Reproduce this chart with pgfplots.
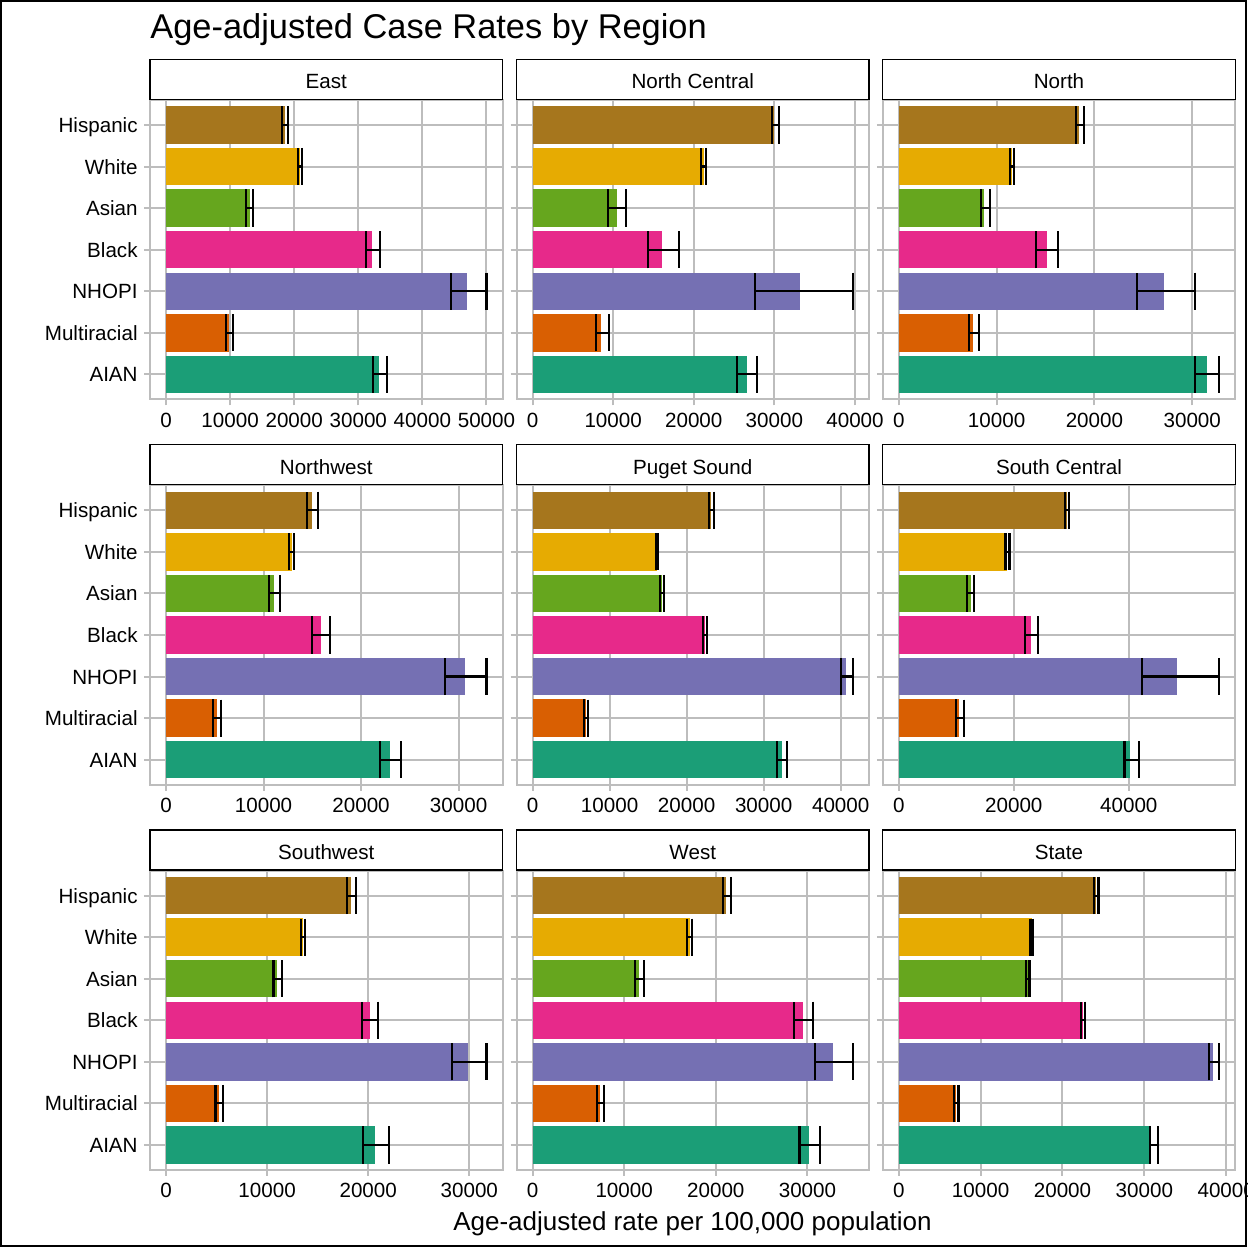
\documentclass[border=0pt]{standalone}
\usepackage{fontspec}
\setmainfont{Liberation Sans}
\usepackage{pgfplots}
\pgfplotsset{compat=1.18}
\usepackage{pgfplotstable}

\definecolor{c1}{HTML}{1B9E77}
\definecolor{c2}{HTML}{D95F02}
\definecolor{c3}{HTML}{7570B3}
\definecolor{c4}{HTML}{E7298A}
\definecolor{c5}{HTML}{66A61E}
\definecolor{c6}{HTML}{E6AB02}
\definecolor{c7}{HTML}{A6761D}
\definecolor{gridc}{HTML}{BDBDBD}

% y: 1 AIAN, 2 Multiracial, 3 NHOPI, 4 Black, 5 Asian, 6 White, 7 Hispanic
\pgfplotstableread{
y val lo hi
7 18580 18060 19000
6 20900 20600 21220
5 13040 12530 13560
4 32140 31160 33440
3 47000 44460 50000
2 9780 9320 10460
1 33230 32300 34470
}\tEast
\pgfplotstableread{
y val lo hi
7 29900 29650 30560
6 21240 20950 21530
5 10430 9400 11550
4 16120 14270 18140
3 33150 27630 39750
2 8540 7840 9440
1 26560 25320 27880
}\tNorthCentral
\pgfplotstableread{
y val lo hi
7 18420 18150 18960
6 11550 11350 11820
5 8700 8360 9280
4 15120 14070 16310
3 27120 24360 30310
2 7540 7140 8190
1 31500 30310 32760
}\tNorth
\pgfplotstableread{
y val lo hi
7 15000 14420 15610
6 12890 12620 13130
5 11090 10540 11700
4 15850 15000 16770
3 30610 28610 32860
2 5240 4830 5610
1 22990 21970 24120
}\tNorthwest
\pgfplotstableread{
y val lo hi
7 23200 22900 23500
6 16170 15990 16340
5 16770 16510 17030
4 22400 22070 22630
3 40730 40000 41590
2 6940 6640 7240
1 32330 31770 33020
}\tPuget
\pgfplotstableread{
y val lo hi
7 29190 28840 29600
6 18900 18550 19250
5 12540 11790 13120
4 22950 22020 24160
3 48440 42310 55720
2 10520 10000 11390
1 40290 39250 41730
}\tSouthCentral
\pgfplotstableread{
y val lo hi
7 18250 17920 18770
6 13590 13390 13780
5 10990 10630 11490
4 20150 19400 21000
3 29870 28260 31700
2 5250 4890 5680
1 20710 19460 22090
}\tSouthwest
\pgfplotstableread{
y val lo hi
7 21150 20750 21650
6 17140 16900 17370
5 11570 11140 12150
4 29520 28510 30650
3 32830 30790 34970
2 7360 7000 7800
1 30210 29130 31370
}\tWest
\pgfplotstableread{
y val lo hi
7 24130 23870 24400
6 16270 16090 16450
5 15770 15560 15970
4 22500 22210 22780
3 38380 37850 39150
2 7030 6770 7300
1 30800 30720 31650
}\tState

\pgfplotsset{panelstyle/.style={
  scale only axis, width=176.25pt, height=149.65pt,
  ymin=0.4, ymax=7.6, ytick={1,2,3,4,5,6,7},
  scaled x ticks=false,
  grid=major, major grid style={gridc, line width=1pt},
  axis line style={gridc, line width=1pt},
  tick style={gridc, line width=1pt}, tick align=outside, major tick length=3pt,
  xtick pos=left, ytick pos=left,
  ticklabel style={font=\fontsize{10.3}{12}\selectfont, text=black},
  yticklabel style={inner sep=0pt, xshift=-3pt, text height=7.5pt, text depth=0pt},
  xticklabel style={inner sep=0pt, yshift=-3.5pt},
}}

\newcommand{\bars}[1]{%
  \pgfplotsinvokeforeach{1,2,3,4,5,6,7}{%
    \addplot[xbar, bar shift=0pt, bar width=0.9, fill=c##1, draw=none,
      restrict y to domain=##1:##1,
      error bars/.cd, x dir=both, x explicit, error mark=|,
      error bar style={line width=1.05pt, black},
      error mark options={line width=1.05pt, black, mark size=9.3pt}]
      table[x=val, y=y,
        x error plus expr=\thisrow{hi}-\thisrow{val},
        x error minus expr=\thisrow{val}-\thisrow{lo}] {#1};
  }%
}

\newcommand{\panel}[8]{%
  \begin{axis}[name=#1, at={(#3,#4)}, anchor=south west, panelstyle,
    xmin=#5, xmax=#6, xtick={#7}, xticklabels={#7}, yticklabels={#8}]
    \bars{#2}
  \end{axis}%
}

\tikzset{strip/.style={draw=black, fill=white, line width=0.7pt,
  minimum width=176.25pt, minimum height=20pt, inner sep=0pt, anchor=south,
  text height=9.4pt, text depth=0pt, font=\fontsize{10.3}{12}\selectfont}}

\begin{document}
\begin{tikzpicture}
\useasboundingbox (0,0) rectangle (623.5pt,-623.5pt);

\panel{pA}{\tEast}{75pt}{-199.65pt}{-2500}{52500}{0,10000,20000,30000,40000,50000}{AIAN,Multiracial,NHOPI,Black,Asian,White,Hispanic}
\panel{pB}{\tNorthCentral}{258.25pt}{-199.65pt}{-1988}{41738}{0,10000,20000,30000,40000}{}
\panel{pC}{\tNorth}{441.375pt}{-199.65pt}{-1638}{34398}{0,10000,20000,30000}{}

\panel{pD}{\tNorthwest}{75pt}{-392.3pt}{-1643}{34503}{0,10000,20000,30000}{AIAN,Multiracial,NHOPI,Black,Asian,White,Hispanic}
\panel{pE}{\tPuget}{258.25pt}{-392.3pt}{-2080}{43670}{0,10000,20000,30000,40000}{}
\panel{pF}{\tSouthCentral}{441.375pt}{-392.3pt}{-2786}{58506}{0,20000,40000}{}

\panel{pG}{\tSouthwest}{75pt}{-584.95pt}{-1585}{33285}{0,10000,20000,30000}{AIAN,Multiracial,NHOPI,Black,Asian,White,Hispanic}
\panel{pH}{\tWest}{258.25pt}{-584.95pt}{-1749}{36719}{0,10000,20000,30000}{}
\panel{pI}{\tState}{441.375pt}{-584.95pt}{-1958}{41108}{0,10000,20000,30000,40000}{}

\node[strip] at (pA.north) {East};
\node[strip] at (pB.north) {North Central};
\node[strip] at (pC.north) {North};
\node[strip] at (pD.north) {Northwest};
\node[strip] at (pE.north) {Puget Sound};
\node[strip] at (pF.north) {South Central};
\node[strip] at (pG.north) {Southwest};
\node[strip] at (pH.north) {West};
\node[strip] at (pI.north) {State};

\node[anchor=base west, inner sep=0pt, font=\fontsize{17.2}{20}\selectfont] at (75pt,-19.25pt) {Age-adjusted Case Rates by Region};
\node[anchor=base, inner sep=0pt, font=\fontsize{13}{15}\selectfont] at (346.25pt,-615pt) {Age-adjusted rate per 100,000 population};

\draw[line width=0.8pt] (0.4pt,-0.4pt) rectangle (623.1pt,-623.1pt);
\end{tikzpicture}
\end{document}
